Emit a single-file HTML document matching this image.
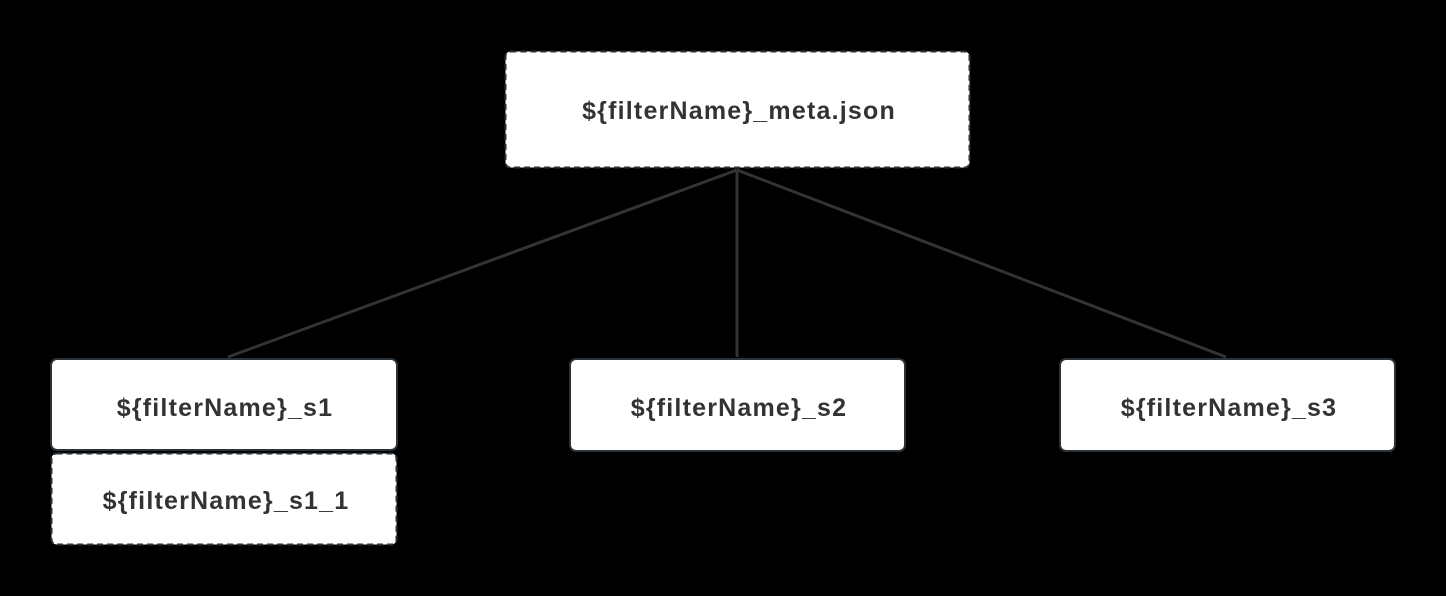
<!DOCTYPE html>
<html><head><style>
body{margin:0;background:#000;width:1446px;height:596px;overflow:hidden}
svg{display:block}
text{font-family:"Liberation Sans",sans-serif;font-weight:bold;font-size:25px;letter-spacing:1.2px;fill:#333;text-anchor:middle;dominant-baseline:central}
</style></head><body>
<svg width="1446" height="596" viewBox="0 0 1446 596">
<g stroke="#333" stroke-width="3" fill="none">
<line x1="737" y1="170" x2="228" y2="357"/>
<line x1="737" y1="170" x2="737" y2="357"/>
<line x1="737" y1="170" x2="1226" y2="357"/>
</g>
<g fill="#fff" stroke="#2a323a" stroke-width="2">
<rect x="505.5" y="51.5" width="464" height="116" rx="5" stroke-dasharray="6 4"/>
<rect x="51" y="359" width="346" height="91" rx="6"/>
<rect x="51.5" y="453.5" width="345" height="91" rx="5" stroke-dasharray="6 4"/>
<rect x="570" y="359" width="335" height="92" rx="6"/>
<rect x="1060" y="359" width="335" height="92" rx="6"/>
</g>
<text x="739" y="111">${filterName}_meta.json</text>
<text x="225" y="408">${filterName}_s1</text>
<text x="226" y="501">${filterName}_s1_1</text>
<text x="739" y="408">${filterName}_s2</text>
<text x="1229" y="408">${filterName}_s3</text>
</svg>
</body></html>
